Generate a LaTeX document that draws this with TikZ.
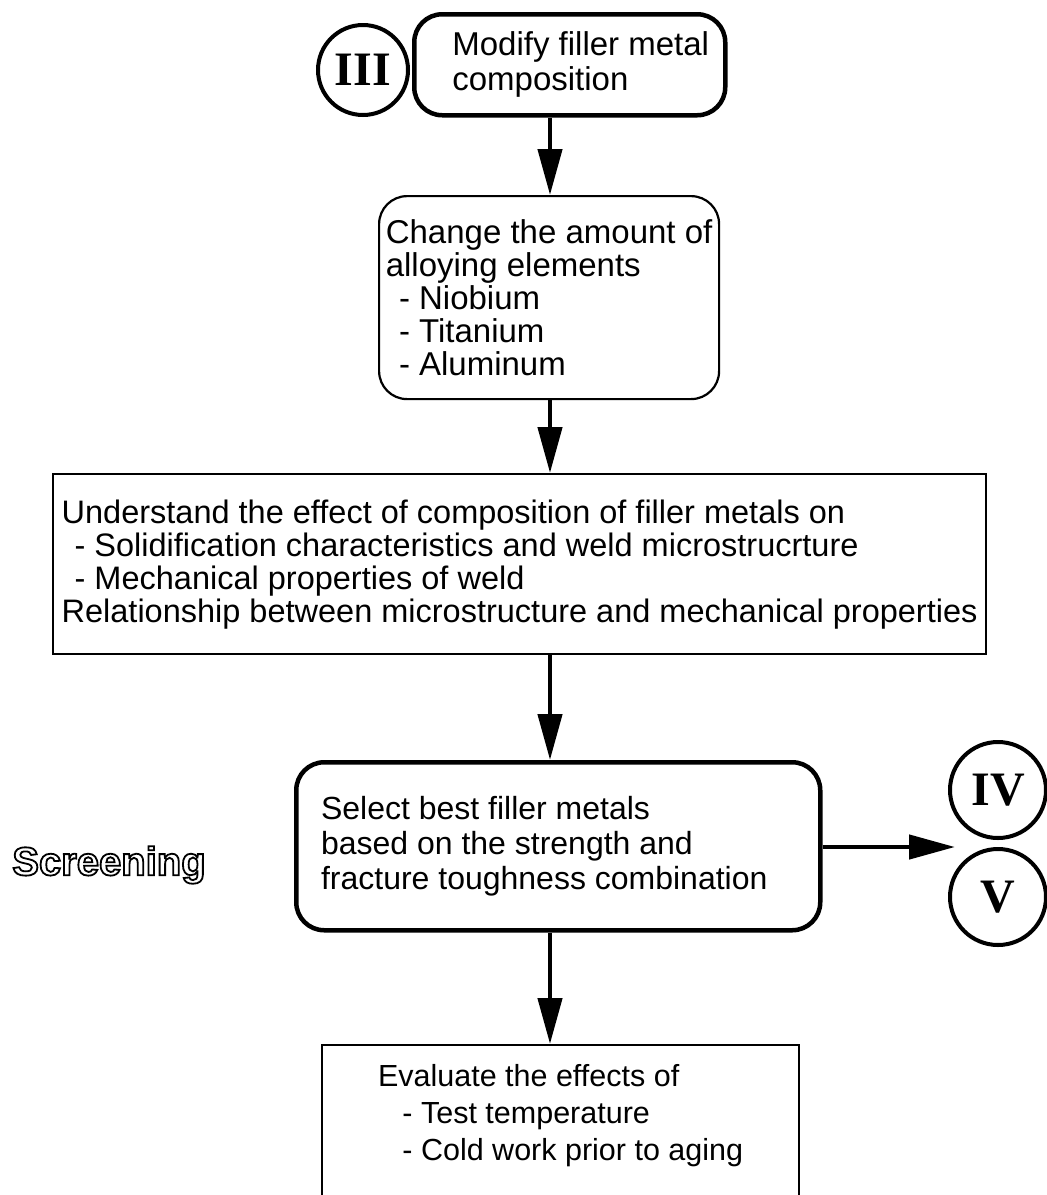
\documentclass[tikz,border=0pt]{standalone}
\usepackage{fontspec}
\setmainfont{Liberation Sans}
\newfontfamily\numfont{Liberation Serif}
\usetikzlibrary{arrows.meta}
\newcommand{\hollow}[1]{\special{pdf:literal 1 Tr 1.8 w}#1\special{pdf:literal 0 Tr}}

\begin{document}
\begin{tikzpicture}[x=1pt,y=-1pt,
  font=\fontsize{33}{33}\selectfont,
  rbox/.style={draw,rounded corners=28pt,anchor=north west,align=left,inner sep=0pt},
  sbox/.style={draw,line width=2.2pt,anchor=north west,align=left,inner sep=0pt},
  numcirc/.style={draw,circle,line width=4pt,minimum size=96pt,inner sep=0pt,
    font=\numfont\bfseries\fontsize{48}{48}\selectfont},
  flow/.style={line width=4.5pt,-{Triangle[length=46pt,width=24pt]}}]

\useasboundingbox (0,0) rectangle (1047,1195);
\coordinate (col) at (550,0);

\node[rbox,line width=4.5pt,font=\fontsize{33}{35}\selectfont,minimum width=311pt,minimum height=101pt] (modify) at (412,12)
  {\hspace*{22pt}Modify filler metal\\\hspace*{22pt}composition};
\node[numcirc,minimum size=90pt] (three) at (363,70) {III};

\node[rbox,line width=2.2pt,minimum width=340pt,minimum height=203pt] (change) at (378,195)
  {Change the amount of\\alloying elements\\\hspace*{0.4em}- Niobium\\\hspace*{0.4em}- Titanium\\\hspace*{0.4em}- Aluminum};

\node[sbox,font=\fontsize{32.5}{33}\selectfont,minimum width=933pt,minimum height=180pt] (effect) at (52,473)
  {Understand the effect of composition of filler metals on\\
   \hspace*{0.4em}- Solidification characteristics and weld microstrucrture\\
   \hspace*{0.4em}- Mechanical properties of weld\\
   Relationship between microstructure and mechanical properties};

\node[rbox,line width=4.5pt,font=\fontsize{32}{35}\selectfont,minimum width=524pt,minimum height=168pt] (select) at (294,760)
  {Select best filler metals\\based on the strength and\\fracture toughness combination\hspace*{28pt}};

\node[font=\fontsize{40}{40}\selectfont\bfseries] (screen) at (109,865) {\hollow{Screening}};

\node[numcirc] (four) at (998,790) {IV};
\node[numcirc] (five) at (998,897) {V};
\coordinate (split) at (955,847);

\node[sbox,font=\fontsize{30.5}{37}\selectfont,minimum width=477pt,minimum height=245pt] (evaluate) at (321,1044)
  {Evaluate the effects of\\\hspace*{0.8em}- Test temperature\\\hspace*{0.8em}- Cold work prior to aging\\\mbox{}\\\mbox{}\\\mbox{}};

\draw[flow] (modify.south -| col) -- (change.north -| col);
\draw[flow] (change.south -| col) -- (effect.north -| col);
\draw[flow] (effect.south -| col) -- (select.north -| col);
\draw[flow] (select.south -| col) -- (evaluate.north -| col);
\draw[flow] (select.east |- split) -- (split);

\end{tikzpicture}
\end{document}
